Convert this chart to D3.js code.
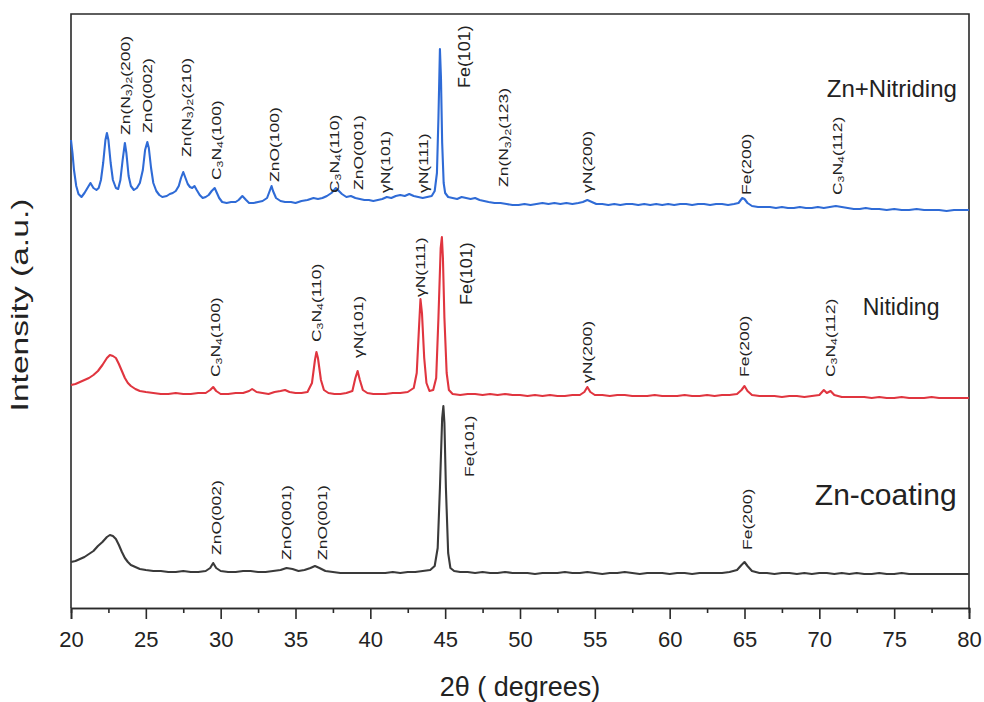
<!DOCTYPE html>
<html>
<head>
<meta charset="utf-8">
<script src="https://cdn.jsdelivr.net/npm/d3@7"></script>
<style>
  body { margin: 0; background: #fff; }
  svg { display: block; }
  text { font-family: "Liberation Sans", Arial, sans-serif; fill: #222; }
</style>
</head>
<body>
<svg id="chart" width="984" height="702"></svg>
<script>
// 2θ tick labels
var xTicks = [20, 25, 30, 35, 40, 45, 50, 55, 60, 65, 70, 75, 80];
var xMinor = [22.5, 27.5, 32.5, 37.5, 42.5, 47.5, 52.5, 57.5, 62.5, 67.5, 72.5, 77.5];

var seriesNames = ["Zn-coating", "Nitiding", "Zn+Nitriding"];
var offsets = [0, 180, 370]; // vertical stacking of the patterns

// [2θ, intensity]
var znCoating = [
  [20.0,46],[20.3,47],[20.6,49],[20.9,51],[21.2,54],[21.5,57],[21.8,62],[22.1,66],[22.4,71],[22.6,73],
  [22.8,72],[23.0,69],[23.2,63],[23.4,56],[23.6,50],[23.8,46],[24.0,43],[24.3,41],[24.6,39],[25.0,38],
  [25.5,37],[26.0,37],[26.5,36],[27.0,36],[27.5,37],[28.0,36],[28.5,36],[29.0,37],[29.3,40],[29.5,45],
  [29.7,40],[30.0,37],[30.5,36],[31.0,36],[31.5,37],[32.0,37],[32.5,36],[33.0,36],[33.5,37],[34.0,38],
  [34.4,40],[34.8,39],[35.2,37],[35.6,38],[36.0,40],[36.3,42],[36.6,40],[37.0,37],[37.5,36],[38.0,35],
  [38.5,35],[39.0,35],[39.5,35],[40.0,35],[40.5,35],[41.0,35],[41.5,36],[42.0,35],[42.5,36],[43.0,36],
  [43.5,37],[44.0,38],[44.3,42],[44.5,60],[44.65,120],[44.8,190],[44.88,202],[44.95,185],[45.05,120],[45.2,55],
  [45.35,40],[45.6,37],[46.0,36],[46.5,36],[47.0,35],[47.5,36],[48.0,35],[48.5,35],[49.0,36],[49.5,35],
  [50.0,35],[50.5,35],[51.0,34],[51.5,35],[52.0,35],[52.5,35],[53.0,36],[53.5,35],[54.0,35],[54.5,36],
  [55.0,35],[55.5,34],[56.0,35],[56.5,35],[57.0,36],[57.5,35],[58.0,34],[58.5,35],[59.0,35],[59.5,35],
  [60.0,34],[60.5,35],[61.0,35],[61.5,34],[62.0,35],[62.5,35],[63.0,35],[63.5,35],[64.0,36],[64.5,38],
  [64.8,43],[65.0,46],[65.2,42],[65.5,37],[66.0,35],[66.5,35],[67.0,34],[67.5,35],[68.0,35],[68.5,34],
  [69.0,35],[69.5,34],[70.0,35],[70.5,35],[71.0,34],[71.5,35],[72.0,34],[72.5,35],[73.0,34],[73.5,34],
  [74.0,35],[74.5,34],[75.0,34],[75.5,35],[76.0,34],[76.5,34],[77.0,34],[77.5,34],[78.0,34],[78.5,34],
  [79.0,34],[79.5,34],[80.0,34]
];

var nitriding = [
  [20.0,43],[20.3,44],[20.6,46],[20.9,48],[21.2,50],[21.5,53],[21.8,57],[22.1,63],[22.4,70],[22.6,73],
  [22.8,72],[23.0,70],[23.2,64],[23.4,57],[23.6,50],[23.8,45],[24.0,42],[24.3,39],[24.6,37],[25.0,36],
  [25.5,35],[26.0,34],[26.5,34],[27.0,35],[27.5,34],[28.0,34],[28.5,35],[29.0,35],[29.3,38],[29.5,41],
  [29.7,37],[30.0,34],[30.5,34],[31.0,35],[31.5,35],[31.9,37],[32.1,39],[32.4,36],[32.8,35],[33.2,34],
  [33.6,36],[34.0,37],[34.3,38],[34.6,36],[35.0,35],[35.4,35],[35.8,36],[36.1,45],[36.3,68],[36.4,76],
  [36.5,70],[36.7,48],[36.9,38],[37.2,35],[37.6,34],[38.0,34],[38.4,35],[38.8,37],[39.0,50],[39.15,57],
  [39.3,48],[39.5,38],[39.8,35],[40.2,34],[40.6,34],[41.0,34],[41.5,35],[42.0,35],[42.5,36],[42.9,40],
  [43.1,55],[43.25,100],[43.35,129],[43.45,115],[43.6,70],[43.75,45],[43.95,37],[44.2,38],[44.4,50],[44.55,110],
  [44.7,180],[44.78,191],[44.85,170],[44.95,110],[45.1,55],[45.25,38],[45.5,34],[46.0,33],[46.5,34],[47.0,34],
  [47.5,33],[48.0,34],[48.5,33],[49.0,34],[49.5,33],[50.0,33],[50.5,32],[51.0,33],[51.5,32],[52.0,33],
  [52.5,32],[53.0,32],[53.5,33],[54.0,33],[54.3,36],[54.5,41],[54.7,36],[55.0,33],[55.5,33],[56.0,32],
  [56.5,33],[57.0,33],[57.5,32],[58.0,32],[58.5,32],[59.0,33],[59.5,32],[60.0,32],[60.5,32],[61.0,33],
  [61.5,32],[62.0,32],[62.5,33],[63.0,32],[63.5,33],[64.0,33],[64.5,34],[64.8,38],[65.0,42],[65.2,37],
  [65.5,33],[66.0,32],[66.5,32],[67.0,32],[67.5,31],[68.0,32],[68.5,32],[69.0,31],[69.5,32],[70.0,33],
  [70.3,38],[70.5,35],[70.75,37],[71.0,33],[71.5,31],[72.0,31],[72.5,31],[73.0,31],[73.5,30],[74.0,31],
  [74.5,30],[75.0,30],[75.5,31],[76.0,30],[76.5,30],[77.0,30],[77.5,31],[78.0,30],[78.5,30],[79.0,30],
  [79.5,30],[80.0,30]
];

var znNitriding = [
  [20.0,98],[20.1,85],[20.2,68],[20.35,52],[20.5,44],[20.7,41],[20.9,45],[21.1,50],[21.3,55],[21.5,50],
  [21.7,48],[21.85,50],[22.0,58],[22.15,75],[22.3,98],[22.4,105],[22.5,98],[22.65,75],[22.8,58],[23.0,50],
  [23.15,49],[23.3,58],[23.45,78],[23.6,95],[23.7,85],[23.85,62],[24.0,52],[24.2,48],[24.4,50],[24.6,55],
  [24.8,68],[24.95,88],[25.1,96],[25.2,90],[25.35,70],[25.5,55],[25.7,47],[25.9,43],[26.1,41],[26.4,42],
  [26.6,44],[26.8,45],[27.0,47],[27.2,52],[27.35,60],[27.5,66],[27.65,60],[27.8,54],[27.95,51],[28.1,50],
  [28.25,52],[28.4,48],[28.6,43],[28.8,40],[29.0,41],[29.2,43],[29.4,47],[29.6,50],[29.75,45],[29.9,40],
  [30.1,36],[30.4,35],[30.7,36],[31.0,36],[31.2,38],[31.45,42],[31.7,38],[31.9,35],[32.2,35],[32.5,36],
  [32.8,37],[33.1,40],[33.3,48],[33.4,52],[33.5,47],[33.7,40],[34.0,37],[34.3,36],[34.7,36],[35.0,35],
  [35.4,37],[35.8,38],[36.2,40],[36.5,39],[36.8,40],[37.1,42],[37.4,45],[37.7,50],[37.9,47],[38.1,44],
  [38.4,41],[38.7,42],[39.0,40],[39.3,39],[39.6,38],[39.9,38],[40.2,37],[40.5,38],[40.8,39],[41.1,41],
  [41.4,40],[41.7,42],[42.0,43],[42.3,42],[42.6,44],[42.9,42],[43.2,41],[43.5,40],[43.8,41],[44.1,42],
  [44.3,47],[44.45,65],[44.55,120],[44.65,189],[44.72,160],[44.8,95],[44.9,55],[45.0,45],[45.2,41],[45.5,40],
  [45.8,39],[46.1,41],[46.4,40],[46.7,39],[47.0,40],[47.3,38],[47.6,37],[47.9,36],[48.3,35],[48.7,35],
  [49.1,34],[49.5,33],[49.9,33],[50.3,34],[50.7,33],[51.1,34],[51.5,35],[51.9,34],[52.3,35],[52.7,34],
  [53.1,35],[53.5,34],[53.9,35],[54.2,36],[54.5,38],[54.8,36],[55.1,34],[55.5,34],[55.9,33],[56.3,34],
  [56.7,33],[57.1,34],[57.5,34],[57.9,33],[58.3,34],[58.7,33],[59.1,34],[59.5,33],[59.9,34],[60.3,33],
  [60.7,34],[61.1,34],[61.5,33],[61.9,34],[62.3,34],[62.7,33],[63.1,34],[63.5,34],[63.9,33],[64.3,34],
  [64.6,35],[64.85,40],[65.0,39],[65.2,35],[65.5,32],[65.9,31],[66.3,31],[66.7,31],[67.1,30],[67.5,31],
  [67.9,30],[68.3,30],[68.7,31],[69.1,30],[69.5,30],[69.9,31],[70.3,30],[70.7,31],[71.1,32],[71.5,31],
  [71.9,30],[72.3,29],[72.7,29],[73.1,30],[73.5,29],[74.0,29],[74.5,28],[75.0,29],[75.5,28],[76.0,28],
  [76.5,29],[77.0,28],[77.5,28],[78.0,28],[78.5,27],[79.0,28],[79.5,28],[80.0,28]
];

// peak assignments: [label, 2θ, intensity at label foot]  ("_n" = subscript)
var coatingPeaks = [
  ["ZnO(002)", 29.7, 53], ["ZnO(001)", 34.4, 48], ["ZnO(001)", 36.8, 48],
  ["Fe(101)", 46.6, 131], ["Fe(200)", 65.2, 58]
];
var nitridingPeaks = [
  ["C_3N_4(100)", 29.6, 51], ["C_3N_4(110)", 36.4, 86], ["γN(101)", 39.2, 70],
  ["γN(111)", 43.3, 131], ["Fe(101)", 46.4, 123], ["γN(200)", 54.5, 45],
  ["Fe(200)", 65.0, 51], ["C_3N_4(112)", 70.7, 51]
];
var znNitridingPeaks = [
  ["Zn(N_3)_2(200)", 23.6, 103], ["ZnO(002)", 25.1, 105], ["Zn(N_3)_2(210)", 27.7, 81],
  ["C_3N_4(100)", 29.7, 58], ["ZnO(100)", 33.6, 56], ["C_3N_4(110)", 37.6, 45],
  ["ZnO(001)", 39.2, 48], ["γN(101)", 41.0, 45], ["γN(111)", 43.5, 45],
  ["Fe(101)", 46.3, 150], ["Zn(N_3)_2(123)", 48.9, 51], ["γN(200)", 54.5, 45],
  ["Fe(200)", 65.1, 43], ["C_3N_4(112)", 71.2, 43]
];

// where each sample name sits: [2θ, intensity]
var nameAnchors = [[69.7, 103], [72.9, 113], [70.5, 141]];

var colors = ["#3a3a3a", "#e0353f", "#2f6bd6"];
var allData = [znCoating, nitriding, znNitriding];
var allPeaks = [coatingPeaks, nitridingPeaks, znNitridingPeaks];

var svg = d3.select("#chart");
var plotL = 71, plotR = 969, plotT = 14, plotB = 608;

var x = d3.scaleLinear().domain([20, 80]).range([plotL, plotR]);
var y = d3.scaleLinear().domain([0, 594]).range([plotB, plotT]);

// frame
svg.append("path")
  .attr("d", "M" + plotL + "," + plotB + "V" + plotT + "H" + plotR + "V" + plotB)
  .attr("fill", "none").attr("stroke", "#2a2a2a").attr("stroke-width", 1.6);

allData.forEach(function(data, i) {
  var off = offsets[i];
  var line = d3.line()
    .x(function(d) { return x(d[0]); })
    .y(function(d) { return y(d[1] + off); });
  svg.append("path")
    .datum(data)
    .attr("fill", "none")
    .attr("stroke", colors[i])
    .attr("stroke-width", 2.1)
    .attr("stroke-linejoin", "round")
    .attr("d", line);
});

// peak labels, rotated and drawn a bit tall like the original
function addLabel(g, txt, px, py, fs, stretch) {
  var t = g.append("text")
    .attr("transform", "translate(" + px + "," + py + ") rotate(-90) scale(" + stretch + ",1)")
    .attr("dominant-baseline", "central")
    .style("font-size", fs + "px");
  var parts = txt.split(/(_\d)/);
  var shifted = false;
  parts.forEach(function(p) {
    if (!p) return;
    if (p[0] === "_") {
      t.append("tspan").text(p[1]).style("font-size", (fs * 0.7) + "px").attr("dy", fs * 0.3);
      shifted = true;
    } else {
      var ts = t.append("tspan").text(p);
      if (shifted) { ts.attr("dy", -fs * 0.3); shifted = false; }
    }
  });
}

var lg = svg.append("g");
allPeaks.forEach(function(peaks, i) {
  peaks.forEach(function(p) {
    var big = p[0] === "Fe(101)" && i > 0;
    addLabel(lg, p[0], x(p[1]), y(p[2] + offsets[i]), big ? 16 : 12.5, big ? 1.12 : 1.4);
  });
});

// sample names
var nameSizes = [30, 23, 24];
nameAnchors.forEach(function(a, i) {
  svg.append("text")
    .attr("x", x(a[0]))
    .attr("y", y(a[1] + offsets[i]))
    .style("font-size", nameSizes[i] + "px")
    .text(seriesNames[i]);
});

// x axis
var axis = svg.append("g").attr("transform", "translate(0," + plotB + ")");
axis.call(d3.axisBottom(x).tickValues(xTicks).tickSize(11).tickPadding(12).tickFormat(d3.format("d")));
axis.append("g").call(d3.axisBottom(x).tickValues(xMinor).tickSize(5).tickFormat(""));
axis.selectAll(".domain").attr("stroke", "#2a2a2a").attr("stroke-width", 1.6);
axis.selectAll(".tick line").attr("stroke", "#2a2a2a").attr("stroke-width", 1.6);
axis.selectAll(".tick text")
  .style("font-size", "22px")
  .style("font-family", "'Liberation Sans', Arial, sans-serif")
  .attr("fill", "#222");

// axis titles
svg.append("text")
  .attr("x", 520).attr("y", 696)
  .attr("text-anchor", "middle")
  .style("font-size", "27px")
  .text("2θ ( degrees)");

svg.append("text")
  .attr("transform", "translate(20,305) rotate(-90) scale(1.4,1)")
  .attr("text-anchor", "middle")
  .attr("dominant-baseline", "central")
  .style("font-size", "24px")
  .text("Intensity (a.u.)");
</script>
</body>
</html>
